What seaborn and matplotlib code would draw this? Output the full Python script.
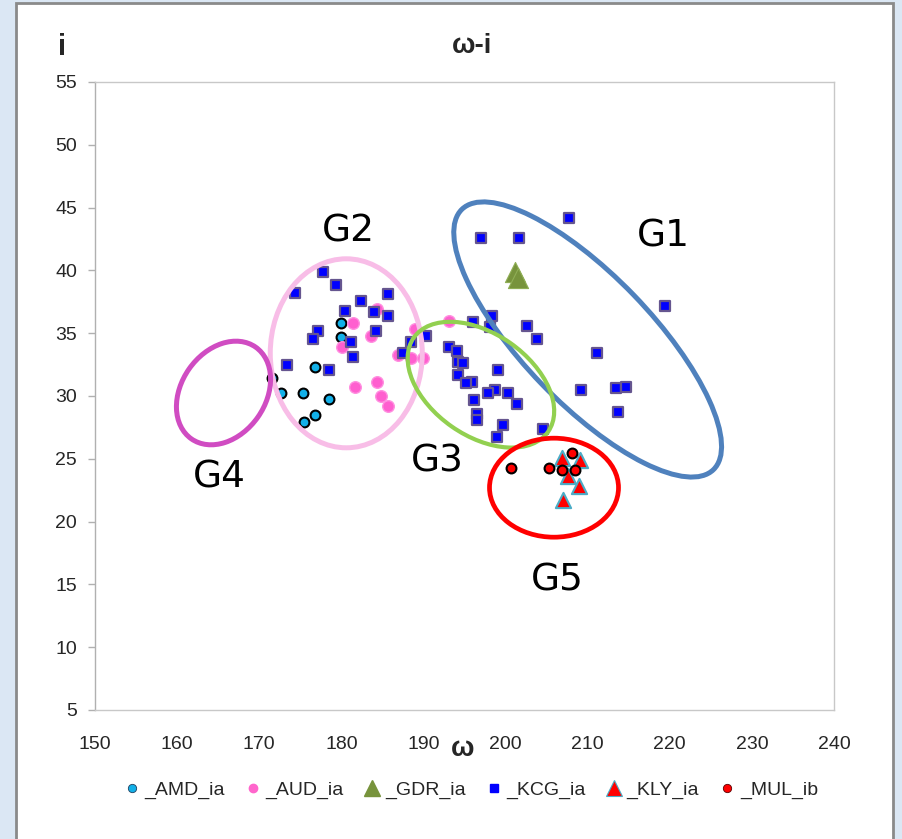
import numpy as np
import pandas as pd
import matplotlib
matplotlib.use("Agg")
import matplotlib.pyplot as plt
from matplotlib.patches import Ellipse, Rectangle
from matplotlib.lines import Line2D
from matplotlib.transforms import ScaledTranslation
import seaborn as sns

sns.set_style("white")
plt.rcParams["font.family"] = ["Liberation Sans", "DejaVu Sans"]

# ---- data: argument of perihelion (omega) vs inclination (i) ----
amd_w = [180.0, 180.0, 176.8, 171.6, 172.7, 175.3, 178.5, 176.8, 175.5]
amd_i = [35.8, 34.7, 32.3, 31.4, 30.2, 30.2, 29.8, 28.5, 27.9]

aud_w = [181.4, 183.6, 180.1, 184.3, 189.0, 186.9, 188.5, 190.0, 193.1, 181.7, 184.3, 184.8, 185.7]
aud_i = [35.8, 34.8, 33.9, 36.9, 35.3, 33.3, 33.0, 33.0, 36.0, 30.7, 31.1, 30.0, 29.2]

gdr_w = [201.1, 201.5]
gdr_i = [39.9, 39.4]

kcg_w = [177.8, 179.4, 174.4, 182.4, 185.7, 180.5, 184.0, 185.7, 177.2, 176.6,
         184.2, 181.2, 181.4, 173.4, 178.5, 187.5, 188.5, 190.3, 196.0, 193.1,
         194.1, 194.2, 194.8, 194.2, 195.9, 195.2, 196.2, 199.1, 198.7, 197.9,
         200.3, 201.4, 196.5, 196.5, 199.7, 199.0, 204.6, 198.4, 198.1, 202.6,
         203.8, 207.7, 197.0, 201.6, 211.1, 209.2, 213.5, 214.7, 213.7, 219.4]
kcg_i = [39.9, 38.8, 38.2, 37.6, 38.1, 36.8, 36.7, 36.4, 35.2, 34.5,
         35.2, 34.3, 33.1, 32.5, 32.1, 33.4, 34.3, 34.8, 35.9, 33.9,
         33.6, 32.7, 32.6, 31.7, 31.1, 31.0, 29.7, 32.1, 30.5, 30.2,
         30.2, 29.4, 28.6, 28.1, 27.7, 26.7, 27.4, 36.4, 35.5, 35.6,
         34.5, 44.2, 42.6, 42.6, 33.4, 30.5, 30.6, 30.7, 28.7, 37.2]

kly_w = [206.9, 209.1, 207.6, 209.0, 207.0]
kly_i = [25.1, 24.9, 23.6, 22.8, 21.7]

mul_w = [200.7, 205.3, 206.9, 208.5, 208.1]
mul_i = [24.3, 24.3, 24.1, 24.1, 25.5]

series_names = ["_AMD_ia", "_AUD_ia", "_GDR_ia", "_KCG_ia", "_KLY_ia", "_MUL_ib"]

x_ticks = [150, 160, 170, 180, 190, 200, 210, 220, 230, 240]
y_ticks = [5, 10, 15, 20, 25, 30, 35, 40, 45, 50, 55]

# group outlines: label, centre (omega, i), label position (omega, i)
group_labels = ["G1", "G2", "G3", "G4", "G5"]
group_centres_w = [210.0, 180.6, 197.0, 165.65, 205.9]
group_centres_i = [34.5, 33.4, 30.9, 30.24, 22.7]
label_w = [219.2, 180.8, 191.7, 165.2, 206.3]
label_i = [42.7, 43.1, 24.75, 23.5, 15.35]

frames = []
for name, w, i in zip(series_names,
                      [amd_w, aud_w, gdr_w, kcg_w, kly_w, mul_w],
                      [amd_i, aud_i, gdr_i, kcg_i, kly_i, mul_i]):
    frames.append(pd.DataFrame({"omega": w, "incl": i, "series": name}))
df = pd.concat(frames, ignore_index=True)

styles = {
    "_AMD_ia": dict(marker="o", s=50, color="#12b0e8", edgecolor="black", linewidth=1.5),
    "_AUD_ia": dict(marker="o", s=70, color="#ff5fcf", edgecolor="#ff8fe0", linewidth=1.0),
    "_GDR_ia": dict(marker="^", s=210, color="#77933c", edgecolor="#8fae55", linewidth=0.8),
    "_KCG_ia": dict(marker="s", s=50, color="#0000ff", edgecolor="#65558f", linewidth=1.6),
    "_KLY_ia": dict(marker="^", s=120, color="#ff0000", edgecolor="#4bacc6", linewidth=1.5),
    "_MUL_ib": dict(marker="o", s=50, color="#ff0000", edgecolor="black", linewidth=1.5),
}

W, H = 902, 839
fig = plt.figure(figsize=(W / 100, H / 100), dpi=100)
fig.patch.set_facecolor("#dbe7f4")
panel = Rectangle((16 / W, -0.01), (893 - 16) / W, 1.01 - 3 / H,
                  transform=fig.transFigure, facecolor="white",
                  edgecolor="#8a8a8a", linewidth=2, zorder=-10)
fig.patches.append(panel)

ax = fig.add_axes([95 / W, (H - 710) / H, (834 - 95) / W, (710 - 82) / H])
ax.set_facecolor("white")
ax.set_zorder(1)

for k, name in enumerate(series_names):
    sub = df[df["series"] == name]
    st = styles[name]
    sns.scatterplot(data=sub, x="omega", y="incl", ax=ax, marker=st["marker"],
                    s=st["s"], color=st["color"], edgecolor=st["edgecolor"],
                    linewidth=st["linewidth"], legend=False, zorder=3 + k * 0.1)

ax.set_xlim(150, 240)
ax.set_ylim(5, 55)
ax.set_xticks(x_ticks)
ax.set_yticks(y_ticks)
ax.set_xlabel("")
ax.set_ylabel("")
for sp in ax.spines.values():
    sp.set_color("#c8c8c8")
    sp.set_linewidth(1.0)
ax.spines["left"].set_color("#b0b0b0")
ax.tick_params(axis="y", length=7 * 0.72, width=1, color="#b0b0b0",
               labelsize=14, labelcolor="#262626", pad=8, direction="out", left=True)
ax.tick_params(axis="x", length=0, labelsize=14, labelcolor="#262626", pad=19, bottom=True)

# group outlines, sized in pixels around a data-space centre
ring_px = [(362, 128, -46, "#4f81bd", 3.6),
           (152, 189, 0, "#f8bde7", 3.6),
           (164, 102, -35, "#92d050", 3.0),
           (112, 84, 55, "#d04cc2", 3.6),
           (129, 99, 0, "#ff0000", 3.4)]
for (w_px, h_px, ang, col, lw), cw, ci in zip(ring_px, group_centres_w, group_centres_i):
    tr = fig.dpi_scale_trans + ScaledTranslation(cw, ci, ax.transData)
    ax.add_patch(Ellipse((0, 0), w_px / 100, h_px / 100, angle=ang, transform=tr,
                         fill=False, edgecolor=col, linewidth=lw, zorder=6, clip_on=False))

for lab, lw_, li_ in zip(group_labels, label_w, label_i):
    ax.text(lw_, li_, lab, fontsize=27, ha="center", va="center", color="black",
            family=["DejaVu Sans"], zorder=7)

ax.set_xlim(150, 240)
ax.set_ylim(5, 55)

fig.text(472 / W, 1 - 46 / H, "ω-i", fontsize=20, fontweight="bold", ha="center", va="center")
fig.text(62 / W, 1 - 47 / H, "i", fontsize=21, fontweight="bold", ha="center", va="center")
fig.text(463 / W, 1 - 749 / H, "ω", fontsize=20, fontweight="bold", ha="center", va="center")

legend_handles = [
    Line2D([], [], linestyle="none", marker="o", markersize=6, markerfacecolor="#12b0e8",
           markeredgecolor="#1f3f5f", markeredgewidth=0.6),
    Line2D([], [], linestyle="none", marker="o", markersize=6, markerfacecolor="#ff66cc",
           markeredgecolor="#ff66cc"),
    Line2D([], [], linestyle="none", marker="^", markersize=12, markerfacecolor="#77933c",
           markeredgecolor="#77933c"),
    Line2D([], [], linestyle="none", marker="s", markersize=6, markerfacecolor="#0000ff",
           markeredgecolor="#0000ff"),
    Line2D([], [], linestyle="none", marker="^", markersize=12, markerfacecolor="#ff0000",
           markeredgecolor="#4bacc6", markeredgewidth=0.8),
    Line2D([], [], linestyle="none", marker="o", markersize=6, markerfacecolor="#ff0000",
           markeredgecolor="#5a0000", markeredgewidth=0.6),
]
fig.legend(legend_handles, series_names, loc="center", bbox_to_anchor=(470 / W, 1 - 790 / H),
           ncol=6, frameon=False, fontsize=14, handletextpad=0.15, columnspacing=0.95,
           handlelength=1.0, labelcolor="#262626")

fig.savefig("out.png", dpi=100, facecolor=fig.get_facecolor())
